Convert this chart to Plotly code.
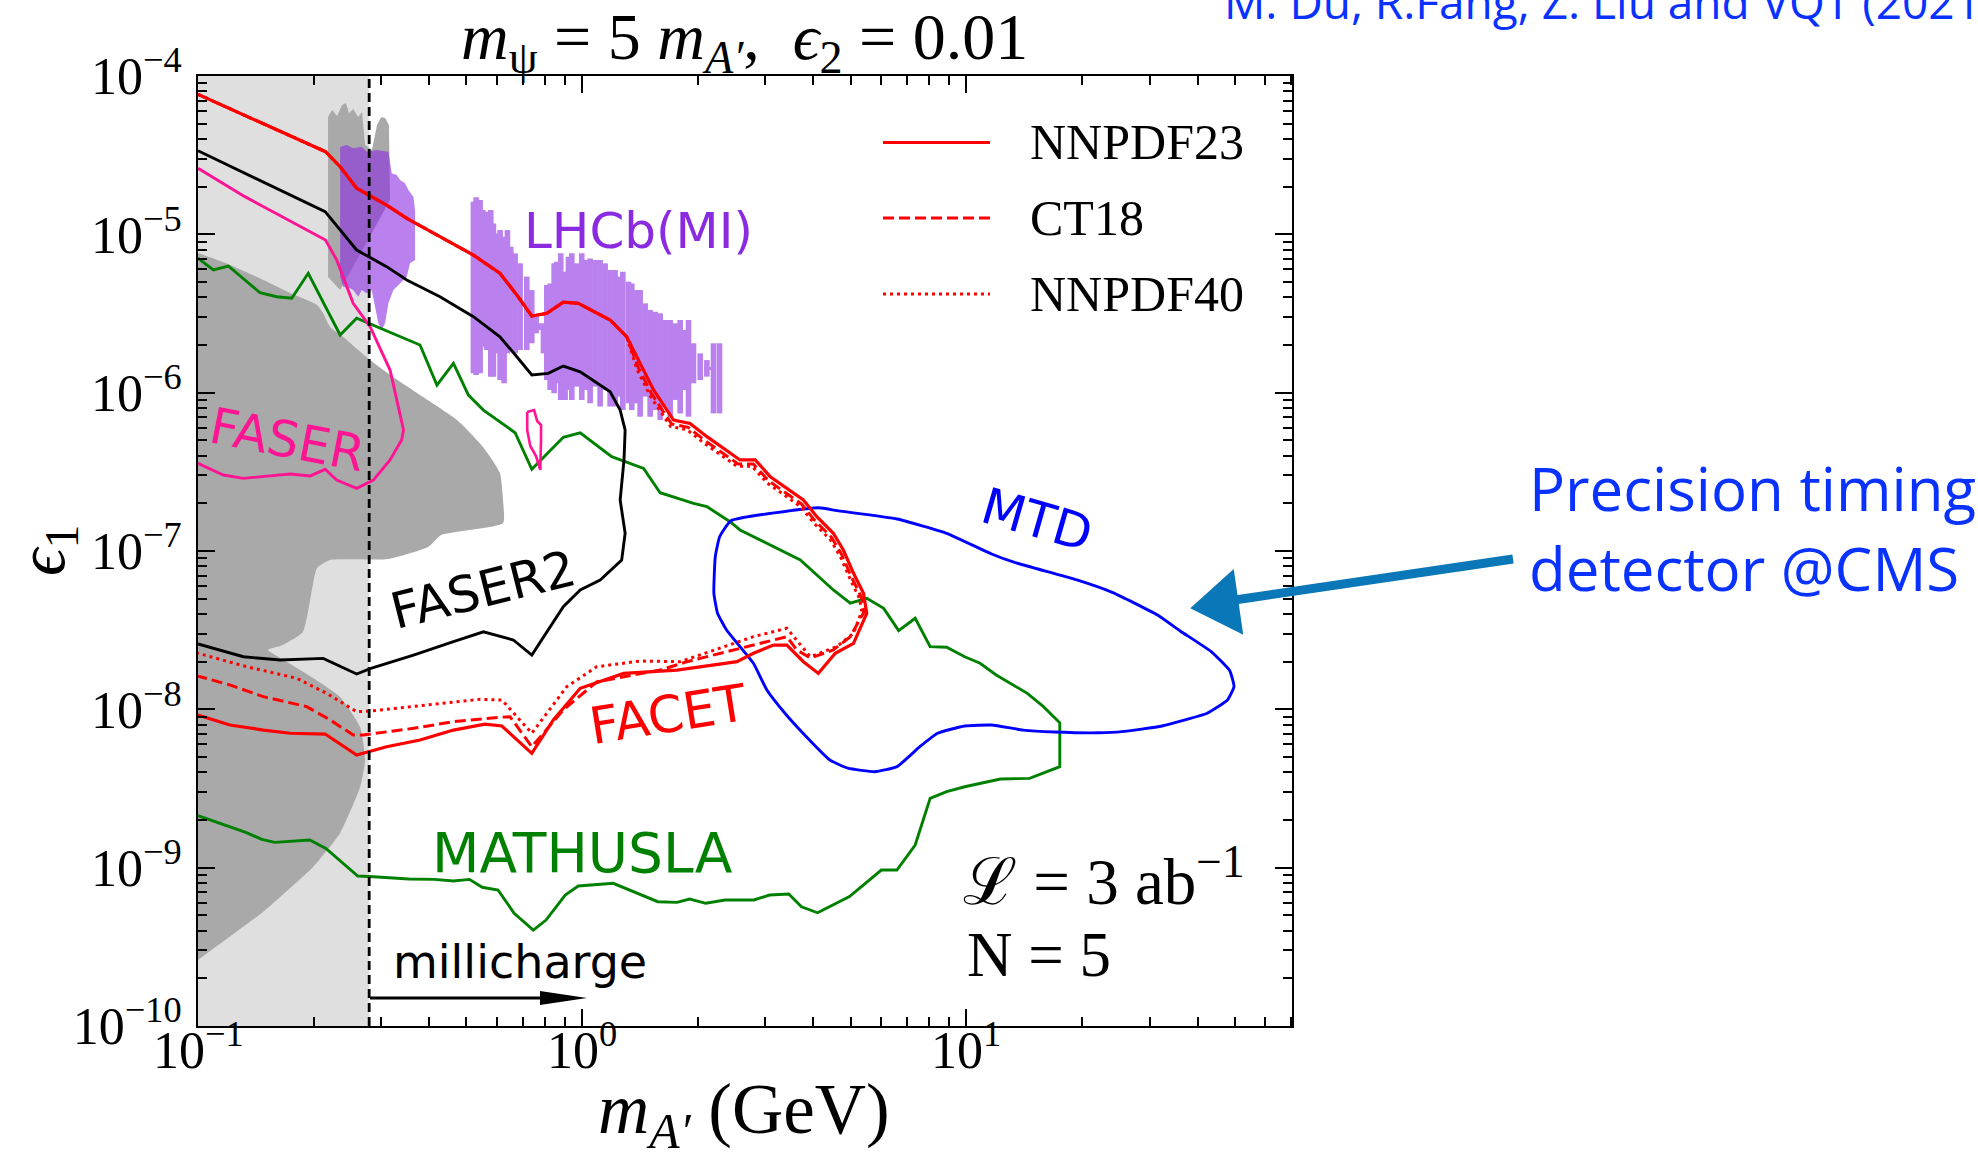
import math
import plotly.graph_objects as go

W, H = 1978, 1157
L, R, T, B = 198, 1292, 76, 1026  # plot area (px)

X_RANGE_LOG = [-1.0, 1.848]
Y_RANGE_LOG = [-10.0, -4.0]
MILLICHARGE_CUT = 0.279  # GeV

# ---------------- data: log10(m_A' / GeV), log10(eps1) ----------------
NNPDF23_LOGM = [-1.000, -0.668, -0.630, -0.587, -0.509, -0.4565, -0.370, -0.283, -0.214, -0.170,
                -0.131, -0.092, -0.049, -0.010, 0.073, 0.116, 0.151, 0.186, 0.238, 0.281,
                0.325, 0.411, 0.4505, 0.490, 0.576, 0.611, 0.654, 0.680, 0.7065, 0.7325,
                0.741, 0.7065, 0.659, 0.615, 0.576, 0.533, 0.498, 0.446, 0.403, 0.247,
                0.108, -0.005, -0.075, -0.131, -0.209, -0.253, -0.335, -0.422, -0.509, -0.587,
                -0.669, -0.760, -0.830, -0.917, -1.0]
NNPDF23_LOGEPS = [-4.116, -4.478, -4.573, -4.709, -4.815, -4.899, -5.015, -5.131, -5.246, -5.383,
                  -5.516, -5.499, -5.429, -5.436, -5.541, -5.647, -5.815, -5.983, -6.173, -6.194,
                  -6.278, -6.425, -6.425, -6.531, -6.678, -6.783, -6.888, -6.994, -7.141, -7.267,
                  -7.394, -7.583, -7.646, -7.773, -7.699, -7.594, -7.594, -7.646, -7.699, -7.752,
                  -7.773, -7.867, -8.067, -8.278, -8.105, -8.093, -8.131, -8.194, -8.236, -8.289,
                  -8.156, -8.151, -8.131, -8.099, -8.036]

CT18_LOGM = [-1.000, -0.668, -0.630, -0.587, -0.509, -0.4565, -0.370, -0.283, -0.214, -0.170,
             -0.131, -0.092, -0.049, -0.010, 0.073, 0.116, 0.146, 0.181, 0.233, 0.276,
             0.320, 0.406, 0.4455, 0.485, 0.571, 0.606, 0.649, 0.675, 0.7015, 0.727,
             0.735, 0.698, 0.654, 0.594, 0.559, 0.533, 0.446, 0.273, 0.203, 0.038,
             -0.049, -0.131, -0.1875, -0.214, -0.335, -0.439, -0.570, -0.596, -0.656, -0.717,
             -0.830, -0.917, -1.0]
CT18_LOGEPS = [-4.116, -4.478, -4.573, -4.709, -4.815, -4.899, -5.015, -5.131, -5.246, -5.383,
               -5.516, -5.499, -5.429, -5.436, -5.541, -5.647, -5.840, -6.008, -6.198, -6.219,
               -6.303, -6.450, -6.450, -6.556, -6.703, -6.808, -6.913, -7.019, -7.166, -7.292,
               -7.380, -7.541, -7.625, -7.676, -7.625, -7.541, -7.594, -7.699, -7.752, -7.826,
               -8.004, -8.236, -8.047, -8.050, -8.078, -8.120, -8.162, -8.162, -8.067, -7.983,
               -7.920, -7.846, -7.790]

NNPDF40_LOGM = [-1.000, -0.668, -0.630, -0.587, -0.509, -0.4565, -0.370, -0.283, -0.214, -0.170,
                -0.131, -0.092, -0.049, -0.010, 0.073, 0.116, 0.143, 0.178, 0.230, 0.273,
                0.317, 0.403, 0.4425, 0.482, 0.568, 0.603, 0.646, 0.672, 0.6985, 0.722,
                0.728, 0.7065, 0.663, 0.594, 0.533, 0.446, 0.255, 0.151, 0.038, -0.040,
                -0.131, -0.209, -0.266, -0.439, -0.552, -0.587, -0.665, -0.743, -0.873, -1.0]
NNPDF40_LOGEPS = [-4.116, -4.478, -4.573, -4.709, -4.815, -4.899, -5.015, -5.131, -5.246, -5.383,
                  -5.516, -5.499, -5.429, -5.436, -5.541, -5.647, -5.855, -6.023, -6.213, -6.234,
                  -6.318, -6.465, -6.465, -6.571, -6.718, -6.823, -6.928, -7.034, -7.181, -7.300,
                  -7.380, -7.520, -7.604, -7.668, -7.488, -7.541, -7.699, -7.695, -7.731, -7.857,
                  -8.151, -7.941, -7.937, -7.983, -8.011, -8.015, -7.899, -7.804, -7.731, -7.646]

FASER2_LOGM = [-1.0, -0.669, -0.587, -0.509, -0.4565, -0.370, -0.283, -0.214, -0.170, -0.131,
               -0.088, -0.049, -0.005, 0.073, 0.099, 0.112, 0.109, 0.099, 0.112, 0.103,
               0.047, -0.005, -0.049, -0.131, -0.179, -0.257, -0.335, -0.439, -0.550, -0.587,
               -0.674, -0.786, -0.882, -1.0]
FASER2_LOGEPS = [-4.472, -4.857, -5.099, -5.204, -5.288, -5.394, -5.520, -5.647, -5.773, -5.888,
                 -5.878, -5.832, -5.868, -5.994, -6.110, -6.236, -6.425, -6.678, -6.888, -7.057,
                 -7.183, -7.246, -7.352, -7.657, -7.562, -7.510, -7.573, -7.657, -7.741, -7.777,
                 -7.678, -7.688, -7.668, -7.587]

FASER_LOGM = [-1.0, -0.878, -0.668, -0.639, -0.596, -0.552, -0.5, -0.465, -0.470, -0.5,
              -0.5435, -0.587, -0.639, -0.669, -0.708, -0.760, -0.882, -0.934, -1.0]
FASER_LOGEPS = [-4.583, -4.762, -5.036, -5.162, -5.436, -5.583, -5.857, -6.236, -6.299, -6.425,
                -6.552, -6.604, -6.552, -6.484, -6.526, -6.514, -6.541, -6.520, -6.446]

FASER_ISLAND_LOGM = [-0.143, -0.125, -0.117, -0.107, -0.107, -0.109, -0.120, -0.135, -0.143, -0.143]
FASER_ISLAND_LOGEPS = [-6.122, -6.110, -6.179, -6.204, -6.299, -6.488, -6.400, -6.337, -6.236, -6.122]

MATHUSLA_LOGM = [-1.0, -0.960, -0.921, -0.8385, -0.795, -0.756, -0.713, -0.630, -0.587, -0.552,
                 -0.422, -0.378, -0.335, -0.296, -0.257, -0.1745, -0.131, -0.049, -0.005, 0.077,
                 0.160, 0.203, 0.290, 0.325, 0.385, 0.411, 0.568, 0.654, 0.698, 0.741,
                 0.785, 0.824, 0.867, 0.906, 0.949, 0.996, 1.036, 1.078, 1.159, 1.201,
                 1.2435, 1.2435, 1.165, 1.089, 0.996, 0.949, 0.906, 0.867, 0.8195, 0.779,
                 0.696, 0.613, 0.571, 0.538, 0.488, 0.447, 0.372, 0.322, 0.280, 0.247,
                 0.197, 0.081, -0.010, -0.044, -0.094, -0.127, -0.177, -0.219, -0.260, -0.2935,
                 -0.335, -0.385, -0.451, -0.543, -0.584, -0.667, -0.709, -0.8005, -0.834, -0.8755,
                 -1.0]
MATHUSLA_LOGEPS = [-5.151, -5.225, -5.200, -5.369, -5.394, -5.404, -5.246, -5.636, -5.530, -5.566,
                   -5.699, -5.952, -5.815, -6.015, -6.110, -6.253, -6.484, -6.282, -6.253, -6.404,
                   -6.478, -6.632, -6.699, -6.720, -6.815, -6.867, -7.057, -7.246, -7.330, -7.299,
                   -7.362, -7.503, -7.425, -7.604, -7.608, -7.668, -7.709, -7.783, -7.899, -7.983,
                   -8.085, -8.362, -8.436, -8.440, -8.489, -8.520, -8.562, -8.857, -9.015, -9.015,
                   -9.183, -9.285, -9.247, -9.166, -9.173, -9.204, -9.204, -9.225, -9.198, -9.219,
                   -9.215, -9.099, -9.116, -9.173, -9.331, -9.394, -9.288, -9.141, -9.124, -9.074,
                   -9.084, -9.074, -9.072, -9.057, -9.053, -8.878, -8.825, -8.840, -8.821, -8.777,
                   -8.672]

MTD_LOGM = [0.3875, 0.6156, 0.668, 0.820, 0.949, 1.066, 1.124, 1.288, 1.3815, 1.498,
            1.557, 1.639, 1.686, 1.697, 1.680, 1.627, 1.510, 1.405, 1.346, 1.229,
            1.148, 1.066, 0.996, 0.9255, 0.879, 0.820, 0.762, 0.692, 0.645, 0.575,
            0.528, 0.481, 0.446, 0.411, 0.376, 0.3526, 0.343, 0.3466, 0.358, 0.3875]
MTD_LOGEPS = [-6.809, -6.727, -6.747, -6.798, -6.888, -7.019, -7.071, -7.183, -7.263, -7.404,
              -7.505, -7.638, -7.756, -7.857, -7.941, -8.025, -8.105, -8.141, -8.148, -8.143,
              -8.131, -8.099, -8.105, -8.151, -8.236, -8.362, -8.394, -8.372, -8.320, -8.151,
              -8.025, -7.878, -7.709, -7.604, -7.499, -7.394, -7.267, -7.036, -6.910, -6.809]

EXCLUDED_LOGM = [-1.0, -0.935, -0.846, -0.760, -0.690, -0.6745, -0.656, -0.622, -0.552, -0.5,
                 -0.414, -0.3255, -0.258, -0.214, -0.206, -0.206, -0.367, -0.401, -0.505, -0.656,
                 -0.690, -0.708, -0.727, -0.779, -0.818, -0.786, -0.7005, -0.630, -0.578, -0.565,
                 -0.578, -0.630, -0.7005, -0.786, -0.834, -1.0]
EXCLUDED_LOGEPS = [-5.118, -5.175, -5.270, -5.371, -5.446, -5.497, -5.585, -5.648, -5.794, -5.888,
                   -6.027, -6.173, -6.343, -6.507, -6.678, -6.823, -6.899, -6.975, -7.051, -7.057,
                   -7.107, -7.310, -7.512, -7.594, -7.625, -7.676, -7.802, -7.922, -8.112, -8.320,
                   -8.491, -8.781, -8.996, -9.185, -9.286, -9.583]

EXCL_SPIKE_LOGM = [-0.6615, -0.6615, -0.651, -0.638, -0.625, -0.615, -0.607, -0.596, -0.583, -0.573,
                   -0.565, -0.547, -0.534, -0.523, -0.513, -0.503, -0.5, -0.630, -0.6615]
EXCL_SPIKE_LOGEPS = [-5.270, -4.259, -4.215, -4.253, -4.183, -4.171, -4.234, -4.208, -4.259, -4.227,
                     -4.436, -4.467, -4.309, -4.259, -4.265, -4.309, -4.783, -5.352, -5.270]

LHCB_A_LOGM = [-0.630, -0.613, -0.596, -0.574, -0.561, -0.5346, -0.5044, -0.4956, -0.4826, -0.474,
               -0.461, -0.4523, -0.4393, -0.435, -0.435, -0.448, -0.4565, -0.474, -0.4914, -0.5044,
               -0.513, -0.522, -0.5305, -0.539, -0.548, -0.561, -0.574, -0.5826, -0.596, -0.604,
               -0.622, -0.630, -0.630]
LHCB_A_LOGEPS = [-4.4465, -4.436, -4.457, -4.4465, -4.478, -4.467, -4.478, -4.6145, -4.625, -4.657,
                 -4.678, -4.72, -4.762, -4.846, -5.162, -5.183, -5.268, -5.309, -5.352, -5.436,
                 -5.562, -5.604, -5.562, -5.457, -5.352, -5.3725, -5.352, -5.394, -5.352, -5.341,
                 -5.331, -5.268, -4.4465]

LHCB_B_LOGM = [-0.2830, -0.2760, -0.2656, -0.2587, -0.2483, -0.2378, -0.2309, -0.2205, -0.2135, -0.2031,
               -0.1944, -0.1858, -0.1745, -0.1615, -0.1441, -0.1311, -0.1198, -0.1137, -0.1007, -0.0920,
               -0.0833, -0.0729, -0.0660, -0.0556, -0.0443, -0.0356, -0.0269, -0.0139, -0.0009, 0.0104,
               0.0208, 0.0339, 0.0469, 0.0599, 0.0729, 0.0859, 0.0972, 0.1059, 0.1207, 0.1293,
               0.1424, 0.1510, 0.1641, 0.1771, 0.1901, 0.2031, 0.2161, 0.2292, 0.2422, 0.2552,
               0.2682, 0.2769, 0.2899, 0.3073, 0.3247, 0.3377, 0.3420, 0.3576]
LHCB_B_TOP = [-4.794, -4.766, -4.783, -4.846, -4.857, -4.846, -4.931, -4.994, -4.973, -5.015,
              -4.973, -5.078, -5.120, -5.183, -5.267, -5.352, -5.520, -5.604, -5.562, -5.320,
              -5.310, -5.183, -5.173, -5.120, -5.236, -5.141, -5.120, -5.183, -5.120, -5.162,
              -5.152, -5.162, -5.162, -5.183, -5.225, -5.225, -5.267, -5.236, -5.299, -5.310,
              -5.352, -5.352, -5.436, -5.478, -5.489, -5.499, -5.541, -5.541, -5.562, -5.541,
              -5.604, -5.541, -5.688, -5.752, -5.794, -5.836, -5.688, -5.688]
LHCB_B_BOT = [-5.878, -5.889, -5.878, -5.710, -5.731, -5.899, -5.899, -5.752, -5.920, -5.941,
              -5.752, -5.741, -5.752, -5.731, -5.731, -5.688, -5.625, -5.562, -5.752, -5.920,
              -5.983, -6.004, -5.941, -6.046, -6.046, -5.983, -6.046, -5.962, -6.046, -5.983,
              -6.067, -5.962, -6.088, -5.983, -6.088, -6.088, -6.025, -6.110, -6.067, -6.110,
              -6.067, -6.152, -6.025, -6.152, -6.110, -6.173, -6.088, -6.152, -6.046, -6.131,
              -5.983, -6.152, -5.941, -5.920, -5.899, -5.857, -6.131, -6.131]

XTICK_VALS = [0.1, 1, 10]
XTICK_TEXT = ["10<sup>−1</sup>", "10<sup>0</sup>", "10<sup>1</sup>"]
YTICK_VALS = [1e-10, 1e-9, 1e-8, 1e-7, 1e-6, 1e-5, 1e-4]
YTICK_TEXT = ["10<sup>−10</sup>", "10<sup>−9</sup>", "10<sup>−8</sup>", "10<sup>−7</sup>",
              "10<sup>−6</sup>", "10<sup>−5</sup>", "10<sup>−4</sup>"]
LEGEND_NAMES = ["NNPDF23", "CT18", "NNPDF40"]

# ---------------- helpers ----------------
def unlog(v):
    return [10.0 ** a for a in v]


def P(X, Y):
    return (X - L) / (R - L), (B - Y) / (B - T)


fig = go.Figure()


def add(x, y, **kw):
    fig.add_trace(go.Scatter(x=x, y=y, hoverinfo="skip", showlegend=False, **kw))


RED = "#ff0000"
PINK = "#ff1493"
GREEN = "#008000"
BLUE = "#0000ff"
PURPLE = "#8a2be2"
LHCB_FILL = "#b980ee"
DARKGREY = "#a9a9a9"
LIGHTGREY = "#dfdfdf"
LW = 2.9

x_lo, x_hi = 10 ** X_RANGE_LOG[0], 10 ** X_RANGE_LOG[1]
y_lo, y_hi = 10 ** Y_RANGE_LOG[0], 10 ** Y_RANGE_LOG[1]

# light grey strip (below millicharge threshold)
add([x_lo, MILLICHARGE_CUT, MILLICHARGE_CUT, x_lo, x_lo], [y_lo, y_lo, y_hi, y_hi, y_lo],
    mode="lines", fill="toself", fillcolor=LIGHTGREY, line=dict(width=0))
# dark grey excluded region
add(unlog(EXCLUDED_LOGM), unlog(EXCLUDED_LOGEPS), mode="lines", fill="toself",
    fillcolor=DARKGREY, line=dict(width=0, shape="spline", smoothing=0.5))
add(unlog(EXCL_SPIKE_LOGM), unlog(EXCL_SPIKE_LOGEPS), mode="lines", fill="toself",
    fillcolor=DARKGREY, line=dict(width=0))
# LHCb (MI): low-mass part overlapping the grey band
add(unlog(LHCB_A_LOGM), unlog(LHCB_A_LOGEPS), mode="lines", fill="toself",
    fillcolor="rgba(138,43,226,0.6)", line=dict(width=0))
# LHCb (MI): striped part, one vertical stripe per sampled mass
bx, by = [], []
for m, t, b in zip(LHCB_B_LOGM, LHCB_B_TOP, LHCB_B_BOT):
    bx += [10 ** m, 10 ** m, None]
    by += [10 ** t, 10 ** b, None]
add(bx, by, mode="lines", line=dict(color=LHCB_FILL, width=5.6))

# curves
add(unlog(MATHUSLA_LOGM), unlog(MATHUSLA_LOGEPS), mode="lines", line=dict(color=GREEN, width=LW))
add(unlog(FASER_LOGM), unlog(FASER_LOGEPS), mode="lines", line=dict(color=PINK, width=LW))
add(unlog(FASER_ISLAND_LOGM), unlog(FASER_ISLAND_LOGEPS), mode="lines", line=dict(color=PINK, width=2.6))
add(unlog(FASER2_LOGM), unlog(FASER2_LOGEPS), mode="lines", line=dict(color="black", width=LW))
add(unlog(MTD_LOGM), unlog(MTD_LOGEPS), mode="lines",
    line=dict(color=BLUE, width=LW, shape="spline", smoothing=0.4))
add(unlog(NNPDF40_LOGM), unlog(NNPDF40_LOGEPS), mode="lines", line=dict(color=RED, width=3, dash="3px,4px"))
add(unlog(CT18_LOGM), unlog(CT18_LOGEPS), mode="lines", line=dict(color=RED, width=3, dash="11px,5px"))
add(unlog(NNPDF23_LOGM), unlog(NNPDF23_LOGEPS), mode="lines", line=dict(color=RED, width=3.2))
# millicharge threshold
add([MILLICHARGE_CUT, MILLICHARGE_CUT], [y_lo, y_hi], mode="lines",
    line=dict(color="black", width=2.8, dash="9px,5px"))

minor_x = [m * 10.0 ** e for e in (-1, 0, 1) for m in range(2, 10) if m * 10.0 ** e < x_hi]
minor_y = [m * 10.0 ** e for e in range(-10, -4) for m in range(2, 10)]

serif = "Liberation Serif"
axis_common = dict(type="log", showgrid=False, zeroline=False, showline=True, linecolor="black",
                   linewidth=2, mirror="ticks", ticks="inside", ticklen=17, tickwidth=2,
                   tickcolor="black", tickmode="array",
                   tickfont=dict(family=serif, size=52, color="black"))
fig.update_xaxes(range=X_RANGE_LOG, tickvals=XTICK_VALS, ticktext=XTICK_TEXT, showticklabels=False,
                 minor=dict(ticks="inside", ticklen=9, tickwidth=1.6, tickcolor="black",
                            tickmode="array", tickvals=minor_x, showgrid=False),
                 **axis_common)
fig.update_yaxes(range=Y_RANGE_LOG, tickvals=YTICK_VALS, ticktext=YTICK_TEXT,
                 minor=dict(ticks="inside", ticklen=9, tickwidth=1.6, tickcolor="black",
                            tickmode="array", tickvals=minor_y, showgrid=False),
                 ticklabelstandoff=4, **axis_common)

ann = []


def text(X, Y, s, size, color="black", family="DejaVu Sans", angle=0, xanchor="center", yanchor="middle"):
    px, py = P(X, Y)
    ann.append(dict(x=px, y=py, xref="paper", yref="paper", text=s, showarrow=False,
                    font=dict(family=family, size=size, color=color), textangle=angle,
                    xanchor=xanchor, yanchor=yanchor))


serif_tick = dict(family=serif, size=52, color="black")
# x tick labels placed just below the axis (log-axis annotation x is log10 of the value)
for v, s in zip(XTICK_VALS, XTICK_TEXT):
    ann.append(dict(x=math.log10(v), y=P(0, 1046)[1], xref="x", yref="paper", text=s,
                    showarrow=False, font=serif_tick, xanchor="center", yanchor="middle"))

# title & axis titles
text(744, 42, "<i>m</i><sub>ψ</sub> = 5 <i>m</i><sub><i>A′</i></sub>,  <i>ϵ</i><sub>2</sub> = 0.01", 66, family=serif)
text(744, 1114, "<i>m</i><sub><i>A′</i></sub> (GeV)", 71, family=serif)
text(45, 551, "<i>ϵ</i><sub>1</sub>", 68, family=serif, angle=-90)

# legend
leg_rows = [142.5, 218, 294]
leg_dash = ["solid", "11px,5px", "3px,4px"]
shapes = []
for name, yy, d in zip(LEGEND_NAMES, leg_rows, leg_dash):
    x0, y0 = P(883, yy)
    x1, _ = P(990, yy)
    shapes.append(dict(type="line", xref="paper", yref="paper", x0=x0, x1=x1, y0=y0, y1=y0,
                       line=dict(color=RED, width=3, dash=d)))
    text(1028, yy, name, 50, family=serif, xanchor="left")

# region labels
text(638, 231, "LHCb(MI)", 50, color=PURPLE)
text(287, 440, "FASER", 50, color=PINK, angle=11)
text(483, 590, "FASER2", 50, angle=-14)
text(668, 714, "FACET", 51, color=RED, angle=-9)
text(1037, 520, "MTD", 50, color=BLUE, angle=16)
text(582, 853, "MATHUSLA", 55, color=GREEN)
text(520, 962, "millicharge", 46)
text(961, 877, "ℒ = 3 ab<sup>−1</sup>", 65, family=serif, xanchor="left")
text(965, 955, "N = 5", 63, family=serif, xanchor="left")

# outside annotations
BLUE_TXT = "#0a32ff"
text(1527, 488, "Precision timing", 60, color=BLUE_TXT, family="Open Sans", xanchor="left")
text(1527, 568, "detector @CMS", 60, color=BLUE_TXT, family="Open Sans", xanchor="left")
text(1222, 34, "M. Du, R.Fang, Z. Liu and VQT (2021)", 46, color=BLUE_TXT, family="Open Sans",
     xanchor="left", yanchor="bottom")

# millicharge arrow
a0 = P(370, 998)
a1 = P(545, 998)
shapes.append(dict(type="line", xref="paper", yref="paper", x0=a0[0], y0=a0[1], x1=a1[0], y1=a1[1],
                   line=dict(color="black", width=3)))
h1, h2, h3 = P(540, 991), P(587, 998), P(540, 1005)
shapes.append(dict(type="path", xref="paper", yref="paper",
                   path=f"M{h1[0]},{h1[1]} L{h2[0]},{h2[1]} L{h3[0]},{h3[1]} Z",
                   fillcolor="black", line=dict(width=0)))

# blue hand-drawn arrow
ARROW_C = "#0a78b8"
s0, s1 = P(1228, 601), P(1513, 559)
shapes.append(dict(type="line", xref="paper", yref="paper", x0=s0[0], y0=s0[1], x1=s1[0], y1=s1[1],
                   line=dict(color=ARROW_C, width=9)))
t1, t2, t3 = P(1192, 608), P(1233, 571), P(1242, 633)
shapes.append(dict(type="path", xref="paper", yref="paper",
                   path=f"M{t1[0]},{t1[1]} L{t2[0]},{t2[1]} L{t3[0]},{t3[1]} Z",
                   fillcolor=ARROW_C, line=dict(color=ARROW_C, width=2)))

fig.update_layout(width=W, height=H, autosize=False,
                  margin=dict(l=L, r=W - R, t=T, b=H - B, pad=0),
                  paper_bgcolor="white", plot_bgcolor="white",
                  showlegend=False, annotations=ann, shapes=shapes)

fig.write_html("out.html")
